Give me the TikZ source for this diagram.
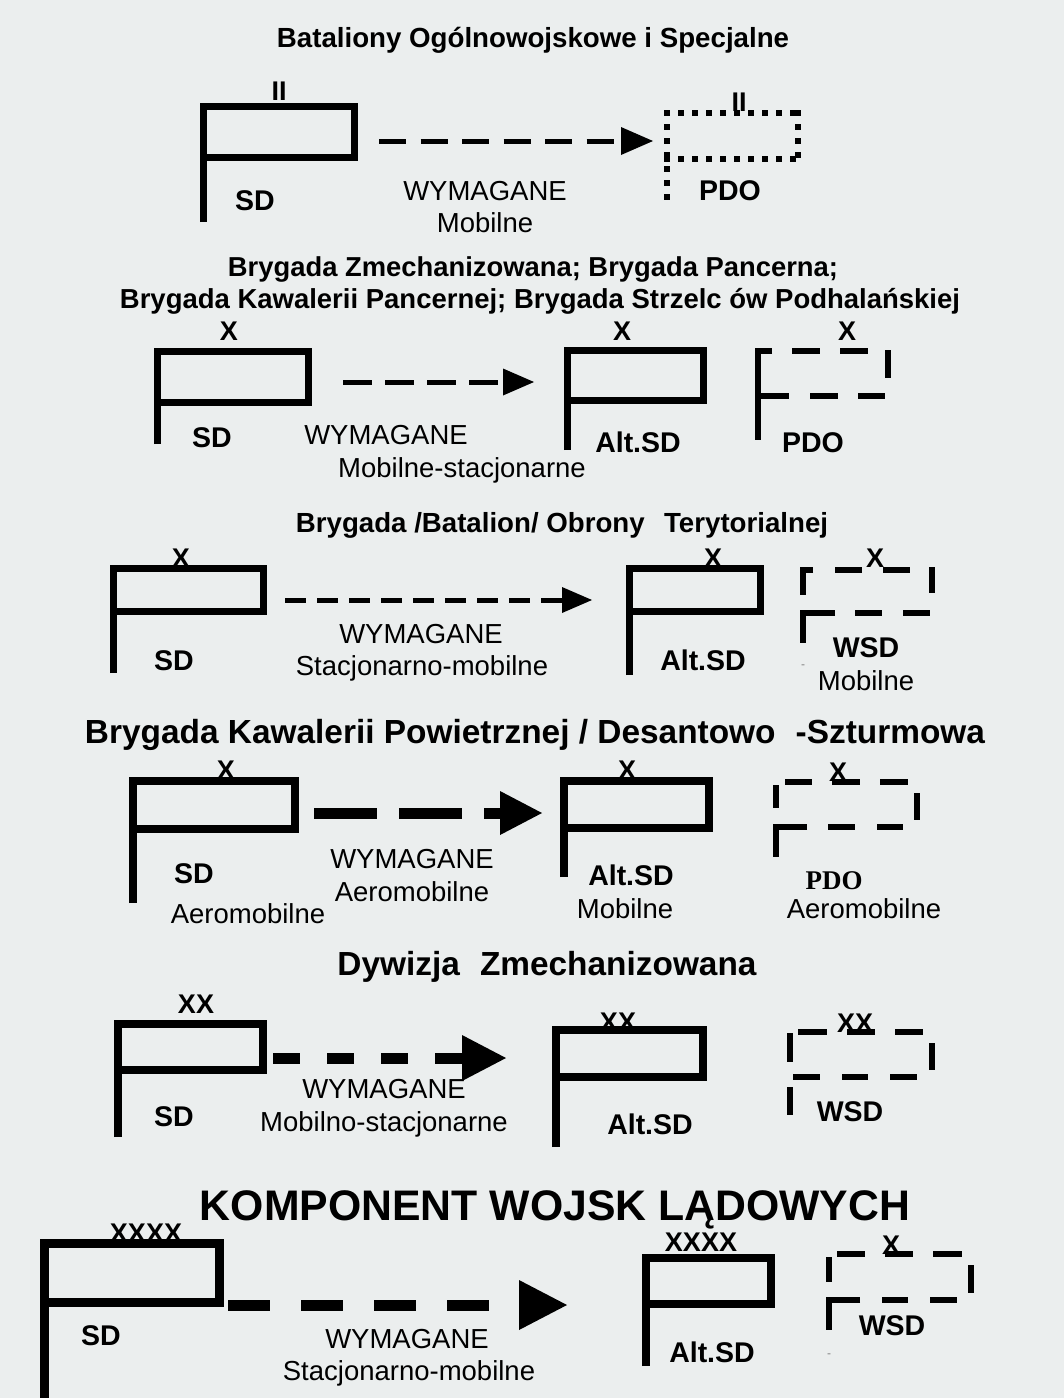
\documentclass[tikz,border=0pt]{standalone}
\usepackage{fontspec}
\setmainfont{Liberation Sans}
\newfontfamily\serifbf{Liberation Serif}
\definecolor{bg}{RGB}{235,238,238}
\begin{document}
\begin{tikzpicture}[x=1pt,y=-1pt,
  flag/.style={line width=7pt, line join=miter, line cap=butt},
  dseg/.style={line width=6pt, line cap=butt},
  dotbox/.style={line width=6pt, line cap=butt, dash pattern=on 6pt off 8pt},
  lab/.style={font=\fontsize{27.5}{30}\selectfont, anchor=base, inner sep=0pt},
  blab/.style={font=\fontsize{28.5}{30}\selectfont\bfseries, anchor=base, inner sep=0pt},
  xlab/.style={font=\fontsize{27}{28}\selectfont\bfseries, anchor=base, inner sep=0pt},
  ttl/.style={font=\bfseries, anchor=base, inner sep=0pt},
  tick/.style={font=\fontsize{12}{12}\selectfont, text=gray, anchor=base, inner sep=0pt}]
\fill[bg] (0,0) rectangle (1064,1398);
\useasboundingbox (0,0) rectangle (1064,1398);

% ---------- Row 1 ----------
\node[ttl] (t1) at (533,47) {\resizebox{512pt}{!}{Bataliony Ogólnowojskowe i Specjalne}};
\draw[flag] (203,222) -- (203,106) -- (354,106) -- (354,157) -- (203,157);
\node[xlab] (r1x1) at (279,100) {II};
\node[blab] (r1sd) at (255,210) {SD};
\coordinate (a1s) at (379,141); \coordinate (a1b) at (621,141); \coordinate (a1e) at (653,141);
\draw[line width=5pt, dash pattern=on 27pt off 14.5pt] (a1s) -- (a1b);
\fill (a1e) -- ([yshift=14pt]a1b) -- ([yshift=-14pt]a1b) -- cycle;
\node[lab] (r1w) at (485,200) {WYMAGANE};
\node[lab] (r1m) at (485,232) {Mobilne};
\draw[dotbox] (664,113) -- (801,113);
\draw[dotbox] (798,110) -- (798,162);
\draw[dotbox] (664,159) -- (801,159);
\draw[dotbox] (667,110) -- (667,201);
\node[xlab] (r1x2) at (739,111) {II};
\node[blab] (r1pdo) at (730,200) {PDO};

% ---------- Row 2 ----------
\node[ttl] (t2a) at (533,276) {\resizebox{610pt}{!}{Brygada Zmechanizowana; Brygada Pancerna;}};
\node[ttl] (t2b) at (540,308) {\resizebox{840pt}{!}{Brygada Kawalerii Pancernej; Brygada Strzelc ów Podhalańskiej}};
\draw[flag] (157,444) -- (157,351) -- (308,351) -- (308,402) -- (157,402);
\node[xlab] (r2x1) at (229,340) {X};
\node[blab] (r2sd) at (212,447) {SD};
\coordinate (a2s) at (343,382); \coordinate (a2b) at (503,382); \coordinate (a2e) at (534,382);
\draw[line width=5pt, dash pattern=on 29pt off 13pt] (a2s) -- (a2b);
\fill (a2e) -- ([yshift=13.5pt]a2b) -- ([yshift=-13.5pt]a2b) -- cycle;
\node[lab] (r2w) at (386,444) {WYMAGANE};
\node[lab] (r2m) at (462,477) {Mobilne-stacjonarne};
\draw[flag] (567,450) -- (567,350) -- (703,350) -- (703,400) -- (567,400);
\node[xlab] (r2x2) at (622,340) {X};
\node[blab] (r2alt) at (638,452) {Alt.SD};
\draw[dseg] (772,351) -- (758,351) -- (758,440);
\draw[dseg] (792,351) -- (820,351);
\draw[dseg] (840,351) -- (868,351);
\draw[dseg] (888,350) -- (888,378);
\draw[dseg] (758,396) -- (789,396);
\draw[dseg] (810,396) -- (838,396);
\draw[dseg] (858,396) -- (885,396);
\node[xlab] (r2x3) at (847,340) {X};
\node[blab] (r2pdo) at (813,452) {PDO};

% ---------- Row 3 ----------
\node[ttl] (t3) at (562,532) {\resizebox{532pt}{!}{Brygada /Batalion/ Obrony\hspace{0.7em}Terytorialnej}};
\draw[flag] (113,673) -- (113,568) -- (263,568) -- (263,611) -- (113,611);
\node[xlab] (r3x1) at (181,567) {X};
\node[blab] (r3sd) at (174,670) {SD};
\coordinate (a3s) at (285,600); \coordinate (a3b) at (562,600); \coordinate (a3e) at (592,600);
\draw[line width=5pt, dash pattern=on 21pt off 11pt] (a3s) -- (a3b);
\fill (a3e) -- ([yshift=13pt]a3b) -- ([yshift=-13pt]a3b) -- cycle;
\node[lab] (r3w) at (421,643) {WYMAGANE};
\node[lab] (r3m) at (422,675) {Stacjonarno-mobilne};
\draw[flag] (629,675) -- (629,568) -- (760,568) -- (760,611) -- (629,611);
\node[xlab] (r3x2) at (713,567) {X};
\node[blab] (r3alt) at (703,670) {Alt.SD};
\draw[dseg] (813,570) -- (803,570) -- (803,595);
\draw[dseg] (835,570) -- (862,570);
\draw[dseg] (883,570) -- (910,570);
\draw[dseg] (932,567) -- (932,593);
\draw[dseg] (835,613) -- (803,613) -- (803,643);
\draw[dseg] (855,613) -- (882,613);
\draw[dseg] (903,613) -- (930,613);
\node[xlab] (r3x3) at (875,567) {X};
\node[blab] (r3wsd) at (866,657) {WSD};
\node[lab] (r3mob) at (866,690) {Mobilne};
\node[tick] (r3t) at (803,668) {-};

% ---------- Row 4 ----------
\node[ttl] (t4) at (535,743) {\resizebox{900pt}{!}{Brygada Kawalerii Powietrznej / Desantowo\hspace{0.6em}-Szturmowa}};
\draw[flag, line width=7.5pt] (133,903) -- (133,781) -- (295,781) -- (295,829) -- (133,829);
\node[xlab] (r4x1) at (226,779) {X};
\node[blab] (r4sd) at (194,883) {SD};
\node[lab] (r4a) at (248,923) {Aeromobilne};
\coordinate (a4s) at (314,813); \coordinate (a4b) at (500,813); \coordinate (a4e) at (542,813);
\draw[line width=11pt, dash pattern=on 63pt off 22pt] (a4s) -- (a4b);
\fill (a4e) -- ([yshift=22pt]a4b) -- ([yshift=-22pt]a4b) -- cycle;
\node[lab] (r4w) at (412,868) {WYMAGANE};
\node[lab] (r4m) at (412,901) {Aeromobilne};
\draw[flag, line width=7.5pt] (564,877) -- (564,781) -- (709,781) -- (709,828) -- (564,828);
\node[xlab] (r4x2) at (627,779) {X};
\node[blab] (r4alt) at (631,885) {Alt.SD};
\node[lab] (r4mob) at (625,918) {Mobilne};
\draw[dseg] (785,782) -- (812,782);
\draw[dseg] (832,782) -- (860,782);
\draw[dseg] (880,782) -- (908,782);
\draw[dseg] (776,785) -- (776,808);
\draw[dseg] (917,793) -- (917,820);
\draw[dseg] (807,827) -- (776,827) -- (776,857);
\draw[dseg] (828,827) -- (855,827);
\draw[dseg] (877,827) -- (903,827);
\node[xlab] (r4x3) at (838,781) {X};
\node[font=\fontsize{27}{30}\selectfont\serifbf\bfseries, anchor=base, inner sep=0pt] (r4pdo) at (834,889) {PDO};
\node[lab] (r4aero) at (864,918) {Aeromobilne};

% ---------- Row 5 ----------
\node[ttl] (t5) at (547,975) {\resizebox{419pt}{!}{Dywizja\hspace{0.6em}Zmechanizowana}};
\draw[flag, line width=7.5pt] (118,1137) -- (118,1024) -- (263,1024) -- (263,1070) -- (118,1070);
\node[xlab] (r5x1) at (196,1013) {XX};
\node[blab] (r5sd) at (174,1126) {SD};
\coordinate (a5s) at (273,1058); \coordinate (a5b) at (462,1058); \coordinate (a5e) at (506,1058);
\draw[line width=11pt, dash pattern=on 27pt off 27pt] (a5s) -- (a5b);
\fill (a5e) -- ([yshift=23pt]a5b) -- ([yshift=-23pt]a5b) -- cycle;
\node[lab] (r5w) at (384,1098) {WYMAGANE};
\node[lab] (r5m) at (384,1131) {Mobilno-stacjonarne};
\draw[flag, line width=7.5pt] (556,1147) -- (556,1030) -- (703,1030) -- (703,1077) -- (556,1077);
\node[xlab] (r5x2) at (618,1031) {XX};
\node[blab] (r5alt) at (650,1134) {Alt.SD};
\draw[dseg] (798,1032) -- (827,1032);
\draw[dseg] (847,1032) -- (875,1032);
\draw[dseg] (895,1032) -- (923,1032);
\draw[dseg] (790,1033) -- (790,1062);
\draw[dseg] (932,1043) -- (932,1070);
\draw[dseg] (793,1077) -- (820,1077);
\draw[dseg] (842,1077) -- (868,1077);
\draw[dseg] (890,1077) -- (917,1077);
\draw[dseg] (790,1087) -- (790,1115);
\node[xlab] (r5x3) at (855,1032) {XX};
\node[blab] (r5wsd) at (850,1121) {WSD};

% ---------- Row 6 ----------
\node[ttl] (t6) at (555,1220) {\resizebox{710pt}{!}{KOMPONENT WOJSK LĄDOWYCH}};
\draw[flag, line width=9pt] (44,1398) -- (44,1243) -- (219,1243) -- (219,1302) -- (44,1302);
\node[xlab] (r6x1) at (146,1242) {XXXX};
\node[blab] (r6sd) at (101,1345) {SD};
\coordinate (a6s) at (228,1305); \coordinate (a6b) at (519,1305); \coordinate (a6e) at (567,1305);
\draw[line width=11pt, dash pattern=on 42pt off 31pt] (a6s) -- (a6b);
\fill (a6e) -- ([yshift=25pt]a6b) -- ([yshift=-25pt]a6b) -- cycle;
\node[lab] (r6w) at (407,1348) {WYMAGANE};
\node[lab] (r6m) at (409,1380) {Stacjonarno-mobilne};
\draw[flag, line width=8pt] (646,1366) -- (646,1258) -- (771,1258) -- (771,1304) -- (646,1304);
\node[xlab] (r6x2) at (701,1251) {XXXX};
\node[blab] (r6alt) at (712,1362) {Alt.SD};
\draw[dseg] (829,1257) -- (829,1282);
\draw[dseg] (837,1254) -- (865,1254);
\draw[dseg] (885,1254) -- (913,1254);
\draw[dseg] (933,1254) -- (962,1254);
\draw[dseg] (971,1265) -- (971,1293);
\draw[dseg] (860,1300) -- (829,1300) -- (829,1330);
\draw[dseg] (882,1300) -- (908,1300);
\draw[dseg] (930,1300) -- (957,1300);
\node[xlab] (r6x3) at (891,1254) {X};
\node[blab] (r6wsd) at (892,1335) {WSD};
\node[tick] (r6t) at (829,1357) {-};
\end{tikzpicture}
\end{document}
